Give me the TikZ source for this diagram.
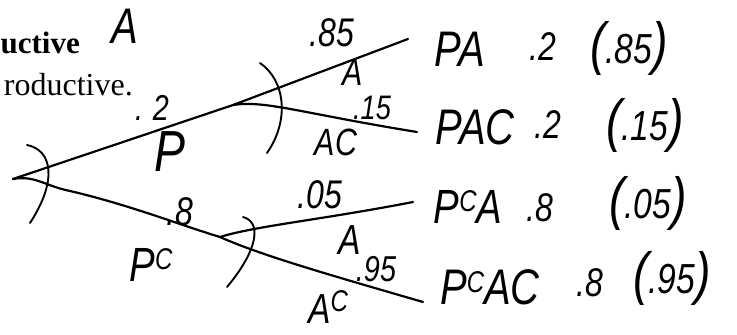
\documentclass[tikz,border=0pt]{standalone}
\usepackage{fontspec}
\usepackage{graphicx}
\setmainfont{Liberation Serif}
\newfontfamily\hand{Liberation Sans}
\newcommand\hwt[1]{\scalebox{0.8}[1]{#1}}
\newcommand\bigpar[1]{{\fontsize{58}{58}\selectfont #1}}
\newcommand\upc[1]{\raisebox{12pt}{\fontsize{30}{30}\selectfont #1}}
\begin{document}
\begin{tikzpicture}[x=1pt,y=-1pt]
\tikzset{
  branch/.style={line width=2.2pt, line cap=round, line join=round},
  arcline/.style={line width=1.9pt, line cap=round},
  hw/.style={font=\hand\itshape\fontsize{#1}{#1}\selectfont, inner sep=0pt},
  hw/.default=38,
  printed/.style={font=\fontsize{32}{32}\selectfont, inner sep=0pt, anchor=base east},
}
\useasboundingbox (0,0) rectangle (737,335);
\fill[white] (0,0) rectangle (737,335);

% printed text (cut off at the left)
\node[printed, font=\fontsize{31}{31}\selectfont\bfseries] (t1) at (80,53) {uctive};
\node[printed] (t2) at (133,95) {roductive.};

% tree points
\coordinate (R) at (13,179);
\coordinate (P1) at (233,105);
\coordinate (P2) at (220,237);
\coordinate (E1) at (408,39);
\coordinate (E2) at (417,132);
\coordinate (E3) at (413,202);
\coordinate (E4) at (423,302);

% branches
\draw[branch] (R) -- (P1) -- (E1);
\draw[branch] (P1) .. controls (265,100) and (300,113) .. (E2);
\draw[branch] (R) .. controls (35,175) and (45,186) .. (70,191) .. controls (130,205) and (180,225) .. (P2);
\draw[branch] (P2) .. controls (255,226) and (320,220) .. (E3);
\draw[branch] (P2) .. controls (260,255) and (330,275) .. (E4);

% arcs
\draw[arcline] (27,145) .. controls (52,150) and (58,180) .. (30,223);
\draw[arcline] (260,63) .. controls (285,80) and (290,120) .. (267,153);
\draw[arcline] (243,217) .. controls (262,222) and (258,250) .. (227,287);

% branch labels
\node[hw=50] (lA0) at (125,26) {\hwt{A}};
\node[hw=36] (l2) at (152,108) {\hwt{.\hspace{12pt}2}};
\node[hw=58] (lP) at (170,152) {\hwt{P}};
\node[hw=40] (l85) at (332,33) {\hwt{.85}};
\node[hw=38] (lA1) at (353,72) {\hwt{A}};
\node[hw=34] (l15) at (372,108) {\hwt{.15}};
\node[hw=38] (lAC1) at (336,142) {\hwt{AC}};
\node[hw=40] (l8) at (180,212) {\hwt{.8}};
\node[hw=48] (lPC) at (151,265) {\hwt{P\upc{C}}};
\node[hw=40] (l05) at (320,195) {\hwt{.05}};
\node[hw=42] (lA2) at (350,240) {\hwt{A}};
\node[hw=36] (l95) at (376,269) {\hwt{.95}};
\node[hw=42] (lAC2) at (328,307) {\hwt{A\upc{C}}};

% outcomes
\node[hw=50] (o1a) at (460,49) {\hwt{PA}};
\node[hw=40] (o1b) at (543,47) {\hwt{.2}};
\node[hw=42] (o1c) at (629,48) {\hwt{\bigpar{(}.85\bigpar{)}}};

\node[hw=50] (o2a) at (475,127) {\hwt{PAC}};
\node[hw=40] (o2b) at (548,125) {\hwt{.2}};
\node[hw=42] (o2c) at (645,125) {\hwt{\bigpar{(}.15\bigpar{)}}};

\node[hw=48] (o3a) at (468,207) {\hwt{P\upc{C}A}};
\node[hw=40] (o3b) at (540,208) {\hwt{.8}};
\node[hw=42] (o3c) at (648,203) {\hwt{\bigpar{(}.05\bigpar{)}}};

\node[hw=50] (o4a) at (490,287) {\hwt{P\upc{C}AC}};
\node[hw=40] (o4b) at (590,283) {\hwt{.8}};
\node[hw=42] (o4c) at (672,278) {\hwt{\bigpar{(}.95\bigpar{)}}};
\end{tikzpicture}
\end{document}
